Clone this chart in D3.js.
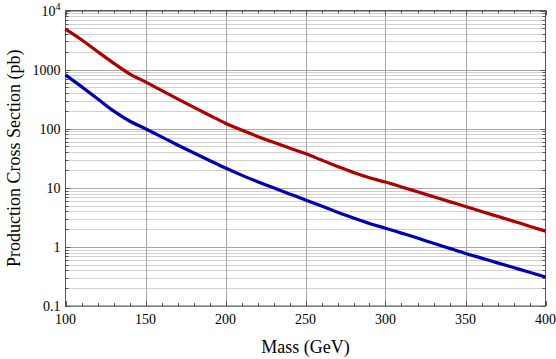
<!DOCTYPE html>
<html><head><meta charset="utf-8">
<script src="https://d3js.org/d3.v7.min.js"></script>
<style>body{margin:0;background:#fff}svg{display:block}</style>
</head><body>
<svg id="c" width="556" height="359" font-family="'Liberation Serif', 'Times New Roman', Times, serif"></svg>
<script>
const masses = [100,110,120,130,140,150,160,170,180,190,200,210,220,230,240,250,260,270,280,290,300,310,320,330,340,350,360,370,380,390,400];
const seriesRed = [4850,3200,2020,1290,850,620,444,320,232,169,124,94.8,74.1,58.9,47.1,38,29.5,23,18.1,14.8,12.5,10.35,8.55,7.06,5.83,4.82,3.98,3.29,2.72,2.24,1.85];
const seriesBlue = [815,515,322,200,135,100,72.8,53.1,39.1,29,21.6,16.4,12.7,10,7.89,6.24,4.9,3.85,3.08,2.49,2.07,1.71,1.41,1.15,0.944,0.776,0.646,0.537,0.447,0.372,0.309];
const xTicks = [100,150,200,250,300,350,400];
const yTicks = [0.1,1,10,100,1000,10000];
const yTickLabels = ["0.1","1","10","100","1000","10^4"];

const L=65.5, R=545.5, T=10.5, B=306;
const svg=d3.select("#c");
const x=d3.scaleLinear().domain([100,400]).range([L,R]);
const y=d3.scaleLog().domain([0.1,10000]).range([B,T]);

const minorY=[];
for(let e=-1;e<4;e++){for(let k=2;k<=9;k++)minorY.push(k*Math.pow(10,e));}
svg.append("g").selectAll("line").data(minorY).join("line")
  .attr("x1",L).attr("x2",R).attr("y1",d=>Math.round(y(d))+0.5).attr("y2",d=>Math.round(y(d))+0.5)
  .attr("stroke","#d0d0d0").attr("stroke-width",1);
svg.append("g").selectAll("line").data(yTicks).join("line")
  .attr("x1",L).attr("x2",R).attr("y1",d=>Math.round(y(d))+0.5).attr("y2",d=>Math.round(y(d))+0.5)
  .attr("stroke","#a8a8a8").attr("stroke-width",1);
svg.append("g").selectAll("line").data(xTicks.slice(1,-1)).join("line")
  .attr("x1",d=>Math.round(x(d))+0.5).attr("x2",d=>Math.round(x(d))+0.5).attr("y1",T).attr("y2",B)
  .attr("stroke","#a8a8a8").attr("stroke-width",1);

svg.append("rect").attr("x",L).attr("y",T).attr("width",R-L).attr("height",B-T)
  .attr("fill","none").attr("stroke","#555").attr("stroke-width",1);

const xMinor=d3.range(100,401,10);
const tg=svg.append("g").attr("stroke","#555").attr("stroke-width",1);
xMinor.forEach(v=>{
  const len = xTicks.includes(v)?5:3;
  const px=Math.round(x(v))+0.5;
  tg.append("line").attr("x1",px).attr("x2",px).attr("y1",B).attr("y2",B-len);
  tg.append("line").attr("x1",px).attr("x2",px).attr("y1",T).attr("y2",T+len);
});
yTicks.forEach(v=>{
  const py=Math.round(y(v))+0.5;
  tg.append("line").attr("x1",L).attr("x2",L+5).attr("y1",py).attr("y2",py);
  tg.append("line").attr("x1",R).attr("x2",R-5).attr("y1",py).attr("y2",py);
});
minorY.forEach(v=>{
  const py=Math.round(y(v))+0.5;
  tg.append("line").attr("x1",L).attr("x2",L+3).attr("y1",py).attr("y2",py);
  tg.append("line").attr("x1",R).attr("x2",R-3).attr("y1",py).attr("y2",py);
});

svg.append("g").selectAll("text").data(xTicks).join("text")
  .attr("x",d=>x(d)).attr("y",B+18).attr("text-anchor","middle").attr("font-size",14).text(d=>d);
const yl=svg.append("g");
yTicks.forEach((v,i)=>{
  const t=yl.append("text").attr("x",L-5).attr("y",y(v)+5).attr("text-anchor","end").attr("font-size",14);
  const lab=yTickLabels[i];
  if(lab.includes("^")){
    const [b,e]=lab.split("^");
    t.append("tspan").text(b);
    t.append("tspan").attr("font-size",10).attr("dy",-6).text(e);
  } else t.text(lab);
});

svg.append("text").attr("x",(L+R)/2).attr("y",353).attr("text-anchor","middle").attr("font-size",18).text("Mass (GeV)");
svg.append("text").attr("transform",`translate(20,${(T+B)/2}) rotate(-90)`).attr("text-anchor","middle").attr("font-size",18).text("Production Cross Section (pb)");

const line=d3.line().x((d,i)=>x(masses[i])).y(d=>y(d)).curve(d3.curveMonotoneX);
svg.append("path").datum(seriesRed).attr("d",line).attr("fill","none").attr("stroke","#b00000").attr("stroke-width",3.2);
svg.append("path").datum(seriesBlue).attr("d",line).attr("fill","none").attr("stroke","#0000b4").attr("stroke-width",3.2);
</script>
</body></html>
